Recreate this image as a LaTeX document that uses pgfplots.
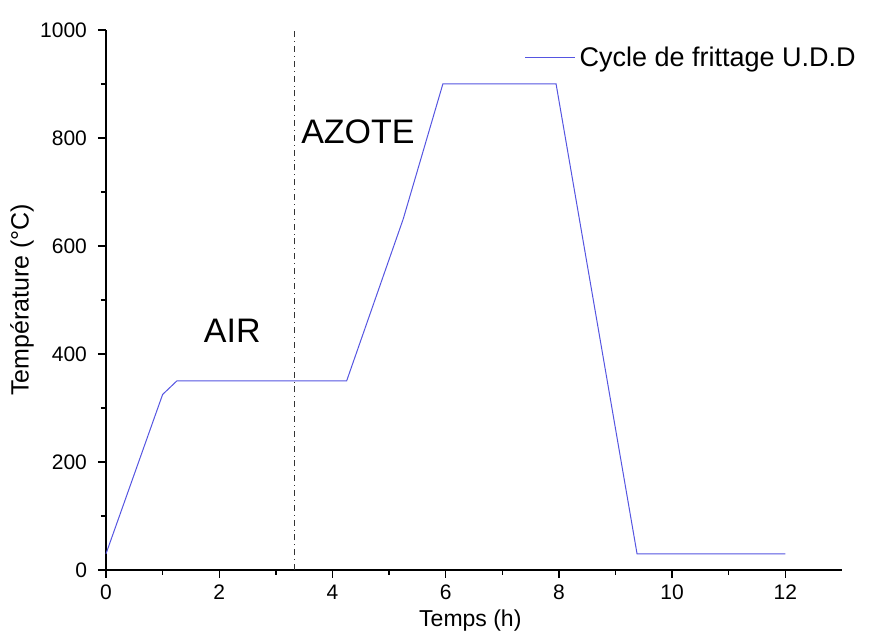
\documentclass[border=0pt]{standalone}
\usepackage{pgfplots}
\pgfplotsset{compat=1.18}
\usepackage{fontspec}
\setmainfont{Liberation Sans}
\usetikzlibrary{calc}
\definecolor{cyc}{RGB}{85,85,225}

\begin{document}
\begin{tikzpicture}
\begin{axis}[
    scale only axis,
    width=368pt, height=270pt,
    xmin=0, xmax=13, ymin=0, ymax=1000,
    axis lines=left,
    axis line style={-, line width=0.8pt},
    xtick={0,2,...,12}, ytick={0,200,...,1000},
    minor tick num=1,
    tick align=outside,
    major tick length=4pt, minor tick length=2.5pt,
    tick style={line width=0.7pt, black},
    /pgf/number format/assume math mode=true,
    /pgf/number format/1000 sep={},
    tick label style={font=\fontsize{10.5}{12}\selectfont},
    yticklabel style={xshift=-2pt},
    xlabel={Temps (h)}, ylabel={Température (°C)},
    xlabel style={at={(axis description cs:0.495,-0.093)}, anchor=center,
        font=\fontsize{11.5}{13}\selectfont},
    ylabel style={at={(axis description cs:-0.114,0.5)}, anchor=center,
        font=\fontsize{12.5}{14}\selectfont},
    legend style={at={(axis description cs:0.56,0.985)}, anchor=north west,
        draw=none, fill=none, font=\fontsize{13.5}{15}\selectfont},
    legend cell align=left,
    legend image code/.code={\draw[#1] (0pt,0pt) -- (25pt,0pt);},
    clip=false,
]
\addplot[cyc, line width=0.5pt] coordinates {
    (0,30) (1,325) (1.25,350) (4.25,350) (5.25,650) (5.95,900)
    (7.95,900) (9.38,30) (12,30)
};
\addlegendentry{Cycle de frittage U.D.D}
\addplot[black!80, line width=0.4pt, dash dot, forget plot] coordinates {(3.32,0) (3.32,1000)};
\node[font=\fontsize{17}{19}\selectfont] at (axis cs:2.23,443) {AIR};
\node[font=\fontsize{17}{19}\selectfont] at (axis cs:4.45,811) {AZOTE};
\end{axis}
\path[use as bounding box] ($(current axis.south west)+(-53pt,-33.5pt)$) rectangle ($(current axis.north east)+(13.5pt,15pt)$);
\end{tikzpicture}
\end{document}
